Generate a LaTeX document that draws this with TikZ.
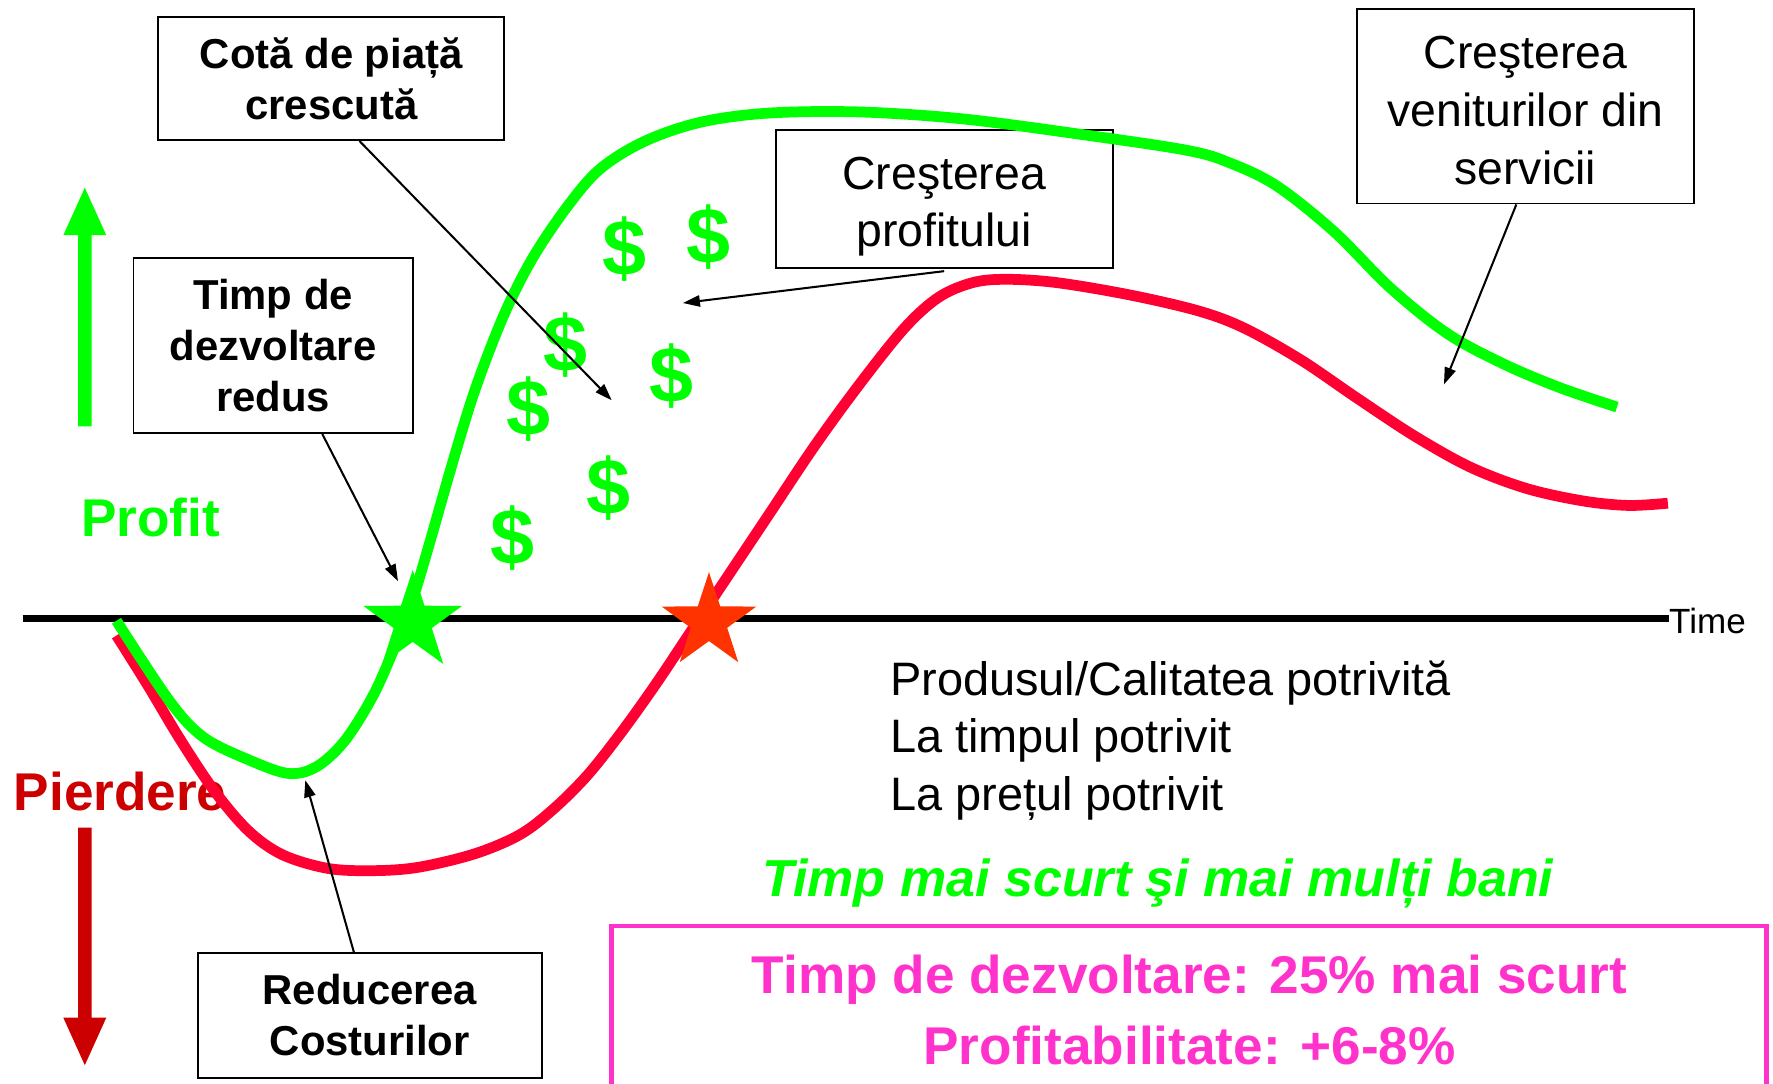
\documentclass[tikz,border=0pt]{standalone}
\usepackage{fontspec}
\setmainfont{Liberation Sans}
\usetikzlibrary{arrows.meta,shapes.geometric}
\definecolor{lgreen}{HTML}{00FF00}
\definecolor{cred}{HTML}{FF0033}
\definecolor{dred}{HTML}{CC0000}
\definecolor{pinkc}{HTML}{FF33CC}
\definecolor{orng}{HTML}{FF3300}
\begin{document}
\begin{tikzpicture}[x=1pt,y=-1pt,
 box/.style={draw, line width=1.6pt, align=center, inner sep=0pt},
 bt/.style={font=\fontsize{37}{45}\selectfont\bfseries},
 rt/.style={font=\fontsize{41}{51}\selectfont},
 callout/.style={line width=1.8pt, -{Triangle[length=15pt,width=10pt]}},
 curvel/.style={line width=9.5pt, smooth, tension=0.55},
 dollar/.style={text=lgreen, font=\fontsize{70}{70}\selectfont\bfseries, inner sep=0pt},
 starshape/.style={star, star points=5, star point ratio=2.6, inner sep=0pt},
]
\useasboundingbox (0,0) rectangle (1568,958);

% big arrows
\fill[lgreen] (69,377) -- (69,208) -- (56,208) -- (75,166) -- (94,208) -- (81,208) -- (81,377) -- cycle;
\fill[dred] (69,732) -- (69,900) -- (56,900) -- (75,942) -- (94,900) -- (81,900) -- (81,732) -- cycle;

% labels
\node[text=lgreen, font=\fontsize{47}{50}\selectfont\bfseries, inner sep=0pt] (profit) at (133,458) {Profit};
\node[text=dred, font=\fontsize{47}{50}\selectfont\bfseries, inner sep=0pt, anchor=west] (pierdere) at (12,700) {Pierdere};

% boxes
\node[box, bt, minimum width=306pt, minimum height=109pt] (A) at (293,69.5) {Cotă de piață\\crescută};
\node[box, bt, minimum width=247pt, minimum height=155pt] (B) at (241.5,305.5) {Timp de\\dezvoltare\\redus};
\node[box, rt, minimum width=298pt, minimum height=122pt] (C) at (835,176) {\rule{0pt}{42pt}Creşterea\\profitului};
\node[box, rt, minimum width=298pt, minimum height=172pt] (D) at (1349,94) {\rule{0pt}{36pt}Creşterea\\veniturilor din\\servicii};
\node[box, bt, minimum width=304pt, minimum height=110pt] (E) at (327,898) {Reducerea\\Costurilor};

% axis
\draw[line width=7pt] (20,547) -- (1476,547) coordinate (axend);
\node[anchor=west, inner sep=0pt, font=\fontsize{31}{34}\selectfont] (time) at (1476,549) {Time};

% text block
\node[anchor=west, align=left, inner sep=0pt, font=\fontsize{41.5}{51}\selectfont] (conds) at (787,655) {Produsul/Calitatea potrivită\\La timpul potrivit\\La prețul potrivit};
\node[text=lgreen, inner sep=0pt, font=\fontsize{46}{50}\selectfont\bfseries\itshape] (slogan) at (1024,781) {Timp mai scurt şi mai mulți bani};

% pink box
\draw[pinkc, line width=4pt] (541,965) -- (541,819) -- (1562,819) -- (1562,965);
\node[text=pinkc, align=center, inner sep=0pt, font=\fontsize{47}{63}\selectfont\bfseries] (res) at (1052,893) {Timp de dezvoltare: 25\% mai scurt\\Profitabilitate: +6-8\%};

% curves
\draw[cred, curvel] plot coordinates {(103,562) (130,605) (160,655) (190,700) (220,735) (250,756) (290,768) (330,770) (370,767) (420,755) (460,738) (490,715) (520,685) (550,647) (580,605) (610,560) (640,515) (680,455) (720,395) (760,340) (800,290) (830,263) (860,250) (890,247) (935,250) (1000,261) (1060,275) (1100,290) (1150,318) (1200,352) (1250,385) (1300,413) (1350,432) (1400,443) (1440,447) (1475,445)};
\draw[lgreen, curvel] plot coordinates {(103,549) (150,620) (180,652) (220,672) (255,684) (280,678) (305,655) (330,615) (350,570) (365,530) (380,480) (400,410) (420,345) (445,280) (470,230) (500,185) (530,150) (570,125) (620,108) (680,100) (760,99) (850,105) (950,118) (1050,133) (1090,145) (1130,165) (1180,205) (1230,255) (1280,295) (1330,322) (1380,343) (1430,360)};

% stars
\node[starshape, fill=lgreen, minimum size=92pt] (s1) at (365,550) {};
\node[starshape, fill=orng, minimum size=88pt] (s2) at (627,550) {};

% dollars
\node[dollar] (d1) at (552,220) {\$};
\node[dollar] (d2) at (627,210) {\$};
\node[dollar] (d3) at (500,305) {\$};
\node[dollar] (d4) at (467,362) {\$};
\node[dollar] (d5) at (594,333) {\$};
\node[dollar] (d6) at (538,432) {\$};
\node[dollar] (d7) at (453,476) {\$};

% callout arrows
\coordinate (tA) at (541,354);
\coordinate (tB) at (352,514);
\coordinate (tC) at (604,268);
\coordinate (tD) at (1277,340);
\coordinate (tE) at (270,690);
\draw[callout] ([xshift=25pt]A.south) -- (tA);
\draw[callout] ([xshift=43.5pt]B.south) -- (tB);
\draw[callout] ([yshift=-2pt]C.south) -- (tC);
\draw[callout] ([xshift=-8pt]D.south) -- (tD);
\draw[callout] ([xshift=-14pt]E.north) -- (tE);
\end{tikzpicture}
\end{document}
